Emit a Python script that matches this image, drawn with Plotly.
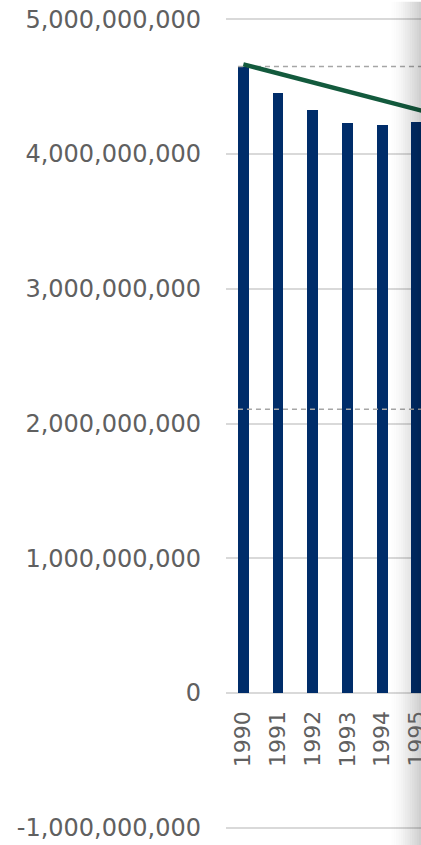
import plotly.graph_objects as go

# ---- data ----
years = [1990, 1991, 1992, 1993, 1994, 1995]
emissions = [4.65e9, 4.45e9, 4.325e9, 4.23e9, 4.215e9, 4.24e9]

trend_years = [1990, 2030]
trend_values = [4.666e9, 1.99e9]

ref_1990_years = [1989.845, 2030]
ref_1990_values = [4.65e9, 4.65e9]
target_years = [1989.845, 2030]
target_values = [2.105e9, 2.105e9]

y_tickvals = [-1e9, 0, 1e9, 2e9, 3e9, 4e9, 5e9]
y_ticktext = ["-1,000,000,000", "0", "1,000,000,000", "2,000,000,000",
              "3,000,000,000", "4,000,000,000", "5,000,000,000"]
x_ticktext = [str(y) for y in years]

W, H = 421, 845
ML, MR, MT, MB = 226, 0, 18, 16
cat_px = 34.7
plot_w = W - ML - MR
plot_h = H - MT - MB
ymin, ymax = -1.01e9, 5.01e9
zero_pos = (0 - ymin) / (ymax - ymin)

fig = go.Figure()
fig.add_trace(go.Bar(x=years, y=emissions, width=0.31,
                     marker=dict(color="#002D6A", line=dict(width=0)),
                     showlegend=False))
fig.add_trace(go.Scatter(x=ref_1990_years, y=ref_1990_values, mode="lines",
                         line=dict(color="#a6a6a6", width=1.5, dash="5px,4px"),
                         showlegend=False))
fig.add_trace(go.Scatter(x=target_years, y=target_values, mode="lines",
                         line=dict(color="#a6a6a6", width=1.5, dash="5px,4px"),
                         showlegend=False))
fig.add_trace(go.Scatter(x=trend_years, y=trend_values, mode="lines",
                         line=dict(color="#135A3D", width=4.5),
                         showlegend=False))

font_family = "DejaVu Sans"
tick_color = "#606060"

# x tick labels as annotations (the last one is cut by the page edge)
annotations = []
for yr, txt in zip(years, x_ticktext):
    annotations.append(dict(x=yr, xref="x", y=zero_pos, yref="paper",
                            text=txt, textangle=-90, showarrow=False,
                            xanchor="center", yanchor="top", yshift=-16,
                            font=dict(family=font_family, size=22, color=tick_color)))

# right-edge fade shadow
n = 14
x0px, x1px = 389, 421
shapes = []
for i in range(n):
    a = x0px + (x1px - x0px) * i / n
    b = x0px + (x1px - x0px) * (i + 1) / n
    op = 0.2 * ((i + 0.5) / n) ** 1.5
    shapes.append(dict(type="rect", xref="paper", yref="paper",
                       x0=(a - ML) / plot_w, x1=(b - ML) / plot_w,
                       y0=-0.02, y1=1.02, layer="above",
                       fillcolor=f"rgba(0,0,0,{op:.3f})", line=dict(width=0)))

fig.update_layout(
    width=W, height=H,
    margin=dict(l=ML, r=MR, t=MT, b=MB, pad=0),
    paper_bgcolor="white", plot_bgcolor="white",
    font=dict(family=font_family, color=tick_color),
    bargap=0,
    shapes=shapes,
    annotations=annotations,
    xaxis=dict(range=[1989.5, 1989.5 + plot_w / cat_px],
               showticklabels=False,
               showgrid=False, zeroline=False, showline=False, ticks=""),
    yaxis=dict(range=[ymin, ymax], tickvals=y_tickvals, ticktext=y_ticktext,
               tickfont=dict(family=font_family, size=24, color=tick_color),
               showgrid=True, gridcolor="#d9d9d9", gridwidth=1.5,
               zeroline=True, zerolinecolor="#d9d9d9", zerolinewidth=1.5,
               showline=False, ticks="",
               ticklabelstandoff=24),
)

fig.write_html("out.html")
